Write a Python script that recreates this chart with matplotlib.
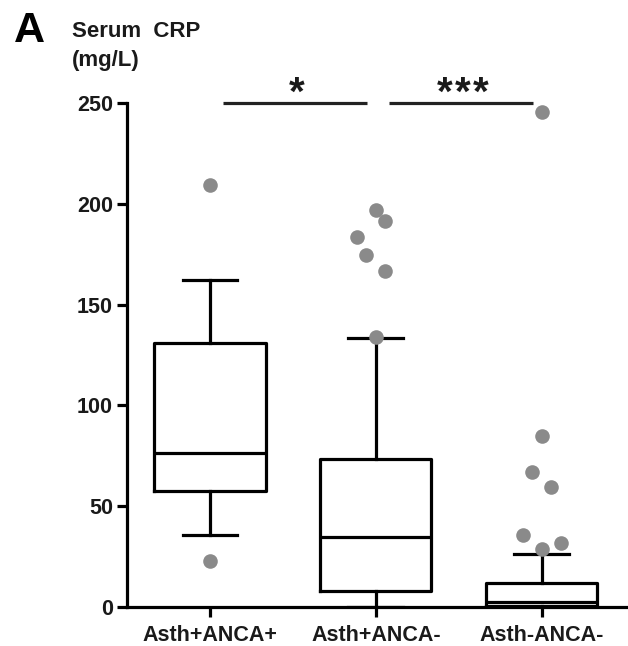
import matplotlib
matplotlib.use("Agg")
import matplotlib.pyplot as plt

plt.rcParams['font.family'] = ['Liberation Sans', 'DejaVu Sans']

# Serum CRP (mg/L) summary per group
groups = ["Asth+ANCA+", "Asth+ANCA-", "Asth-ANCA-"]
whisker_low = [35.5, 0.0, 0.0]
q1 = [57.4, 7.7, 0.3]
median = [76.4, 34.8, 2.5]
q3 = [130.7, 73.5, 12.0]
whisker_high = [162.1, 133.6, 26.5]

# individual values outside the whiskers
outliers = [
    [209.4, 22.8],
    [196.9, 191.6, 183.7, 174.8, 166.5, 134.1],
    [245.3, 84.9, 66.8, 59.6, 35.6, 28.8, 31.6],
]
# horizontal spread of the dots so they don't overlap
outlier_spread = [
    [0.0, 0.0],
    [0.0, 0.056, -0.116, -0.06, 0.056, 0.0],
    [0.0, 0.0, -0.058, 0.058, -0.115, 0.0, 0.116],
]

y_ticks = [0, 50, 100, 150, 200, 250]
comparisons = [(1, 2, 1), (2, 3, 3)]  # (group a, group b, number of stars)

fig = plt.figure(figsize=(6.28, 6.46), dpi=100)
ax = fig.add_axes([0.2022, 0.0604, 0.7978, 0.7802])

positions = [1, 2, 3]
stats = []
for i, name in enumerate(groups):
    stats.append(dict(label=name, whislo=whisker_low[i], q1=q1[i], med=median[i],
                      q3=q3[i], whishi=whisker_high[i], fliers=[]))

lw = 2.3
ax.bxp(stats, positions=positions, widths=0.67, showfliers=False,
       boxprops=dict(color="black", linewidth=lw),
       medianprops=dict(color="black", linewidth=lw),
       whiskerprops=dict(color="black", linewidth=lw),
       capprops=dict(color="black", linewidth=lw),
       capwidths=0.33, zorder=2)

for pos, vals, offs in zip(positions, outliers, outlier_spread):
    xs = [pos + o for o in offs]
    ax.plot(xs, vals, "o", color="#8a8a8a", markersize=10.5, markeredgewidth=0,
            zorder=3, clip_on=False)

ax.set_xlim(0.5, 3.52)
ax.set_ylim(0, 250)
ax.spines["top"].set_visible(False)
ax.spines["right"].set_visible(False)
for s in ("left", "bottom"):
    ax.spines[s].set_linewidth(2.3)
ax.set_yticks(y_ticks)
ax.set_xticks(positions)
ax.set_xticklabels(groups)
ax.tick_params(axis="both", direction="out", length=7, width=2.3, labelsize=15.5, pad=3)
ax.tick_params(axis="x", pad=6)
for lab in ax.get_xticklabels() + ax.get_yticklabels():
    lab.set_fontweight("bold")
    lab.set_color("#1a1a1a")

# significance bars with evenly spaced stars
star_pitch = 0.107
for a, b, n in comparisons:
    x0, x1 = a + 0.08, b - 0.055
    ax.plot([x0, x1], [250, 250], color="#222222", linewidth=2.3, clip_on=False,
            solid_capstyle="butt")
    xc = (x0 + x1) / 2 + 0.01
    for k in range(n):
        xs = xc + (k - (n - 1) / 2) * star_pitch
        ax.text(xs, 245.0, "*", ha="center", va="bottom", fontsize=29,
                fontweight="bold", color="#1a1a1a")

fig.text(0.115, 1 - 37 / 646, "Serum  CRP", ha="left", va="baseline", fontsize=16,
         fontweight="bold", color="#1a1a1a")
fig.text(0.115, 1 - 66 / 646, "(mg/L)", ha="left", va="baseline", fontsize=16,
         fontweight="bold", color="#1a1a1a")
fig.text(0.022, 1 - 42 / 646, "A", ha="left", va="baseline", fontsize=31,
         fontweight="bold", color="black")

fig.savefig("out.png", dpi=100)
